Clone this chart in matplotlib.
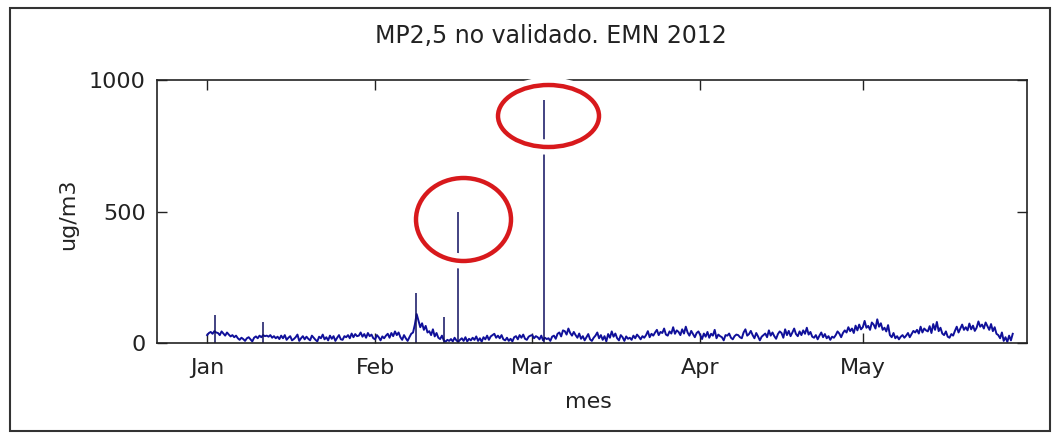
import numpy as np
import matplotlib.pyplot as plt
from matplotlib.patches import Ellipse, Rectangle

plt.rcParams['font.family'] = ['DejaVu Sans']

# PM2.5 readings, 3 samples per day
jan = [30, 38, 42, 35, 45, 40, 38, 30, 44, 36, 28, 40, 32, 25, 30,
       22, 28, 18, 12, 20, 15, 8, 18, 22, 14, 6, 20, 25, 18, 28,
       22, 30, 26, 28, 24, 30, 20, 26, 18, 24, 15, 28, 18, 30, 12,
       20, 26, 10, 15, 22, 32, 8, 18, 26, 14, 24, 16, 10, 28, 20,
       12, 6, 24, 18, 32, 14, 22, 10, 28, 16, 26, 8, 20, 30, 14,
       12, 26, 22, 30, 18, 36, 22, 34, 26, 28, 40, 24, 34, 20, 38,
       26, 32, 18]
feb = [14, 30, 22, 10, 25, 18, 28, 35, 20, 38, 26, 44, 30, 40, 22,
       12, 30, 18, 8, 22, 35, 40, 70, 110, 85, 60, 75, 50, 65, 40,
       45, 30, 52, 25, 38, 20, 15, 28, 10, 5, 12, 8, 15, 6, 20,
       10, 4, 12, 18, 8, 22, 6, 16, 10, 20, 12, 25, 8, 18, 5,
       22, 14, 28, 12, 25, 30, 35, 20, 28, 18, 30, 14, 10, 20, 8,
       16, 6, 22, 26, 14, 30, 20, 32, 16, 12, 24, 28]
mar = [30, 18, 26, 22, 14, 28, 10, 20, 15, 18, 8, 24, 28, 16, 35,
       40, 25, 48, 45, 32, 55, 38, 28, 42, 30, 20, 36, 16, 26, 10,
       22, 34, 14, 8, 20, 28, 40, 18, 30, 12, 26, 6, 34, 20, 44,
       24, 36, 18, 10, 30, 22, 8, 25, 16, 20, 12, 28, 18, 32, 24,
       14, 26, 20, 30, 45, 22, 35, 28, 40, 50, 30, 42, 38, 55, 32,
       28, 44, 36, 60, 35, 48, 42, 30, 52, 36, 62, 40, 28, 46, 34,
       22, 38, 44]
apr = [30, 15, 36, 24, 42, 20, 35, 28, 50, 18, 32, 26, 22, 10, 30,
       28, 36, 20, 14, 26, 32, 30, 22, 18, 40, 52, 28, 34, 46, 30,
       18, 38, 25, 10, 24, 30, 36, 22, 48, 28, 40, 26, 16, 34, 44,
       38, 20, 52, 30, 46, 26, 40, 55, 34, 26, 44, 30, 48, 35, 58,
       32, 42, 24, 20, 30, 14, 28, 40, 22, 34, 18, 26, 12, 24, 20,
       30, 44, 36, 22, 38, 48, 40, 60, 45, 55, 38, 66, 48, 70, 52]
may = [60, 84, 58, 65, 50, 78, 70, 55, 90, 62, 75, 50, 58, 44, 68,
       30, 22, 38, 18, 26, 14, 24, 30, 20, 28, 38, 22, 34, 46, 40,
       50, 36, 62, 40, 55, 48, 44, 64, 38, 72, 50, 80, 45, 58, 36,
       30, 44, 24, 20, 34, 28, 46, 62, 40, 55, 70, 50, 60, 48, 74,
       52, 66, 46, 58, 82, 62, 70, 55, 78, 64, 50, 72, 45, 60, 35,
       30, 18, 40, 8, 22, 4, 28, 10, 35]

# isolated single readings (day of year from Jan 1, value)
spike_day = [1.5, 10.4, 38.5, 43.7, 46.3, 62.2]
spike_val = [106, 80, 190, 99, 500, 924]

month_start = [0, 31, 60, 91, 121]
month_lbl = ['Jan', 'Feb', 'Mar', 'Apr', 'May']

vals = np.array(jan + feb + mar + apr + may, dtype=float)
days = np.arange(len(vals)) / 3.0

W, H = 1057, 433
fig = plt.figure(figsize=(W / 100, H / 100), dpi=100)
ax = fig.add_axes([157 / W, 1 - 343 / H, 870 / W, 263 / H])

col = '#10109a'
ax.plot(days, vals, color=col, lw=1.4)
ax.vlines(spike_day, 0, spike_val, color='#101060', lw=1.1)

ax.set_xlim(-9.25, 151.3)
ax.set_ylim(0, 1000)
ax.set_xticks(month_start)
ax.set_xticklabels(month_lbl)
ax.set_yticks([0, 500, 1000])
ax.tick_params(direction='in', length=7, width=1, top=True, right=True,
               labelsize=16, colors='#222222')
ax.tick_params(axis='x', pad=11)
ax.tick_params(axis='y', pad=8)
for s in ax.spines.values():
    s.set_linewidth(1.2)
    s.set_color('#222222')

fig.text(551 / W, 1 - 36 / H, 'MP2,5 no validado. EMN 2012', ha='center',
         va='center', fontsize=17, color='#222222')
fig.text(588 / W, 1 - 402 / H, 'mes', ha='center', va='center',
         fontsize=16, color='#222222')
fig.text(68 / W, 1 - 214 / H, 'ug/m3', ha='center', va='center',
         rotation=90, fontsize=16, color='#222222')

# red circles drawn over the image, with white halo
for cx, cy, ew, eh in [(463.5, 219.5, 95, 83), (548.5, 116, 101, 62)]:
    for c, lw in [('white', 11), ('#d8191c', 3.2)]:
        fig.add_artist(Ellipse((cx / W, 1 - cy / H), ew / W, eh / H,
                               transform=fig.transFigure, fill=False,
                               edgecolor=c, lw=lw))

fig.add_artist(Rectangle((10 / W, 2 / H), 1040 / W, 423 / H,
                         transform=fig.transFigure, fill=False,
                         edgecolor='#333333', lw=1.5))

plt.savefig('out.png', dpi=100)
